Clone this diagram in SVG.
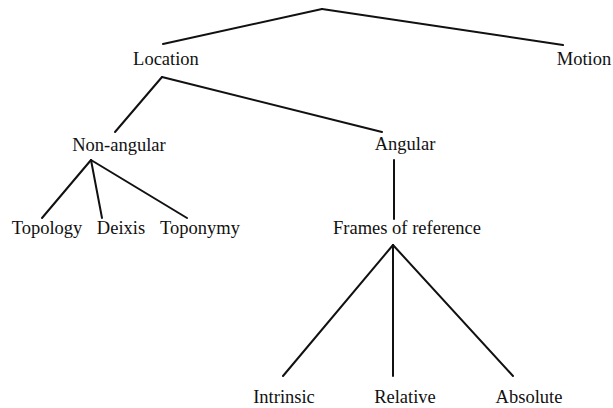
<svg xmlns="http://www.w3.org/2000/svg" width="613" height="408" viewBox="0 0 613 408">
<style>
text{font-family:"Liberation Serif","Times New Roman",serif;font-size:18.5px;fill:#111;text-anchor:middle}
.c line{stroke:#111;stroke-width:2;stroke-linecap:round}
</style>
<rect width="613" height="408" fill="#fff"/>
<g class="c" id="connectors">
<line x1="322" y1="9" x2="163" y2="44"/>
<line x1="322" y1="9" x2="563" y2="45"/>
<line x1="162" y1="77" x2="115" y2="132"/>
<line x1="162" y1="77" x2="382" y2="132"/>
<line x1="91" y1="160" x2="42" y2="218"/>
<line x1="91" y1="160" x2="102" y2="218"/>
<line x1="91" y1="160" x2="187" y2="218"/>
<line x1="394" y1="160" x2="394" y2="219"/>
<line x1="393" y1="245" x2="283" y2="376"/>
<line x1="393" y1="245" x2="393" y2="376"/>
<line x1="393" y1="245" x2="513" y2="376"/>
</g>
<g id="location"><text x="166" y="65">Location</text></g>
<g id="motion"><text x="584" y="65">Motion</text></g>
<g id="nonangular"><text x="119" y="151">Non-angular</text></g>
<g id="angular"><text x="405" y="150">Angular</text></g>
<g id="topology"><text x="47" y="234">Topology</text></g>
<g id="deixis"><text x="121" y="234">Deixis</text></g>
<g id="toponymy"><text x="200" y="234">Toponymy</text></g>
<g id="frames"><text x="407" y="234">Frames of reference</text></g>
<g id="intrinsic"><text x="284" y="403">Intrinsic</text></g>
<g id="relative"><text x="405" y="403">Relative</text></g>
<g id="absolute"><text x="529" y="403">Absolute</text></g>
</svg>
